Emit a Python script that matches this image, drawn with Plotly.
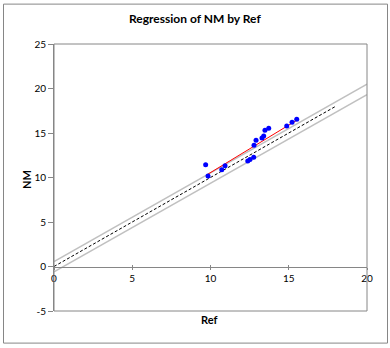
import plotly.graph_objects as go

# Data
ref = [9.69, 9.84, 10.72, 10.93, 12.38, 12.52, 12.76, 12.78, 12.91, 13.29, 13.40, 13.48, 13.72, 14.87, 15.21, 15.51]
nm = [11.42, 10.18, 10.86, 11.31, 11.84, 12.03, 12.28, 13.63, 14.19, 14.45, 14.67, 15.31, 15.53, 15.79, 16.20, 16.54]
fit_x = [9.84, 15.51]
fit_y = [10.38, 16.43]
ident_x = [0, 18]
ident_y = [0, 18]
upper_x = [0, 20]
upper_y = [0.55, 20.5]
lower_x = [0, 20]
lower_y = [-0.6, 19.3]
x_ticks = [0, 5, 10, 15, 20]
y_ticks = [-5, 0, 5, 10, 15, 20, 25]
y_tick_labels = ["-5", "0", "5", "10", "15", "20", "25"]

FONT = "Lato"
GRAY = "#868686"

fig = go.Figure()
fig.add_trace(go.Scatter(x=upper_x, y=upper_y, mode="lines",
                         line=dict(color="#C0C0C0", width=1.5), hoverinfo="skip"))
fig.add_trace(go.Scatter(x=lower_x, y=lower_y, mode="lines",
                         line=dict(color="#C0C0C0", width=1.5), hoverinfo="skip"))
fig.add_trace(go.Scatter(x=ident_x, y=ident_y, mode="lines",
                         line=dict(color="black", width=1, dash="3px,2px"), hoverinfo="skip"))
fig.add_trace(go.Scatter(x=fit_x, y=fit_y, mode="lines",
                         line=dict(color="#FF0000", width=1), hoverinfo="skip"))
fig.add_trace(go.Scatter(x=ref, y=nm, mode="markers",
                         marker=dict(color="#0000FF", size=5, line=dict(width=0))))
# invisible trace so xaxis2 (crossing tick marks) is drawn
fig.add_trace(go.Scatter(x=[0, 20], y=[0, 0], xaxis="x2", mode="lines",
                         line=dict(width=0, color="rgba(0,0,0,0)"),
                         showlegend=False, hoverinfo="skip"))

y0_pos = (0 - (-5)) / 30.0

fig.update_layout(
    width=390, height=348,
    margin=dict(l=54, r=23, t=43.5, b=36.7),
    paper_bgcolor="white", plot_bgcolor="white",
    showlegend=False,
    font=dict(family=FONT, size=10, color="black"),
    xaxis=dict(range=[0, 20], tickvals=x_ticks, showgrid=False, zeroline=False,
               anchor="free", position=y0_pos, showline=True, linecolor=GRAY, linewidth=1,
               ticks="outside", ticklen=2, tickcolor=GRAY, tickfont=dict(size=10, family=FONT)),
    xaxis2=dict(range=[0, 20], tickvals=x_ticks, showgrid=False, zeroline=False,
                overlaying="x", anchor="free", position=y0_pos, showline=False,
                ticks="inside", ticklen=2, tickcolor=GRAY, showticklabels=False),
    yaxis=dict(range=[-5, 25], tickvals=y_ticks, ticktext=y_tick_labels,
               showgrid=False, zeroline=False,
               showline=True, linecolor=GRAY, linewidth=1,
               ticks="outside", ticklen=5, tickcolor=GRAY, tickfont=dict(size=10, family=FONT)),
    shapes=[
        dict(type="rect", xref="paper", yref="paper", x0=0, x1=1, y0=0, y1=1,
             line=dict(color=GRAY, width=1)),
        dict(type="rect", xref="paper", yref="paper",
             x0=(3.5 - 54) / 313, x1=(387.5 - 54) / 313,
             y0=(311.3 - 343.5) / 267.8, y1=(311.3 - 3.5) / 267.8,
             line=dict(color=GRAY, width=1)),
    ],
    annotations=[
        dict(text="<b>Regression of NM by Ref</b>", xref="paper", yref="paper",
             x=(195 - 54) / 313, y=(311.3 - 18) / 267.8, showarrow=False,
             xanchor="center", yanchor="middle", font=dict(size=12, family=FONT)),
        dict(text="<b>NM</b>", xref="paper", yref="paper",
             x=(26 - 54) / 313, y=(311.3 - 180) / 267.8, showarrow=False, textangle=-90,
             xanchor="center", yanchor="middle", font=dict(size=11, family=FONT)),
        dict(text="<b>Ref</b>", xref="paper", yref="paper",
             x=(209 - 54) / 313, y=(311.3 - 320) / 267.8, showarrow=False,
             xanchor="center", yanchor="middle", font=dict(size=11, family=FONT)),
    ],
)

fig.write_html("out.html")
